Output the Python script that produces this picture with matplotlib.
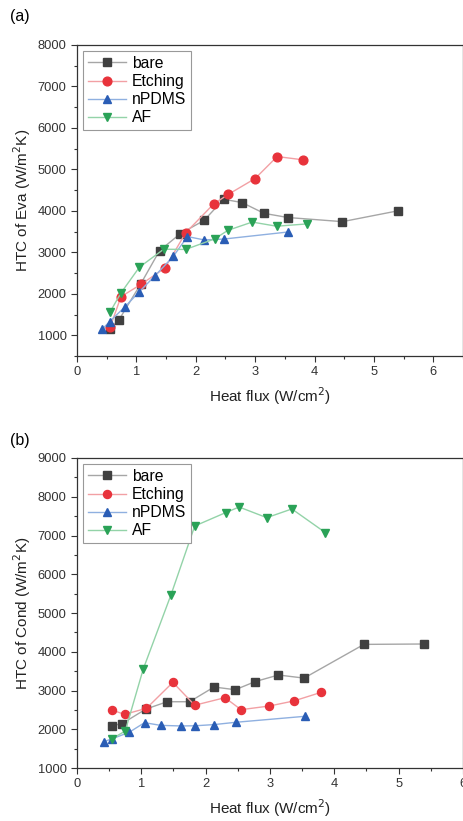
import numpy as np
import matplotlib
matplotlib.use('Agg')
import matplotlib.pyplot as plt
from matplotlib.ticker import MultipleLocator

plt.rcParams['font.family'] = ['Liberation Sans', 'DejaVu Sans']

# (a) HTC of evaporation
eva_bare_x = [0.55, 0.71, 1.07, 1.39, 1.74, 2.14, 2.47, 2.78, 3.15, 3.55, 4.47, 5.40]
eva_bare_y = [1150, 1380, 2230, 3040, 3450, 3770, 4280, 4200, 3940, 3840, 3740, 4000]
eva_etch_x = [0.56, 0.74, 1.08, 1.48, 1.83, 2.30, 2.55, 3.00, 3.37, 3.81]
eva_etch_y = [1200, 1930, 2230, 2620, 3470, 4165, 4400, 4780, 5310, 5230]
eva_npdms_x = [0.42, 0.55, 0.81, 1.05, 1.31, 1.62, 1.86, 2.14, 2.47, 3.55]
eva_npdms_y = [1140, 1330, 1690, 2050, 2430, 2900, 3380, 3300, 3320, 3490]
eva_af_x = [0.56, 0.74, 1.05, 1.46, 1.83, 2.32, 2.54, 2.95, 3.36, 3.87]
eva_af_y = [1570, 2020, 2640, 3075, 3070, 3325, 3530, 3730, 3630, 3685]

# (b) HTC of condensation
cond_bare_x = [0.54, 0.70, 1.07, 1.40, 1.75, 2.13, 2.46, 2.77, 3.13, 3.53, 4.46, 5.39]
cond_bare_y = [2090, 2145, 2520, 2710, 2710, 3090, 3020, 3230, 3400, 3320, 4190, 4200]
cond_etch_x = [0.55, 0.74, 1.08, 1.49, 1.83, 2.30, 2.55, 2.99, 3.37, 3.80]
cond_etch_y = [2490, 2385, 2540, 3210, 2620, 2815, 2505, 2600, 2730, 2955]
cond_npdms_x = [0.42, 0.55, 0.81, 1.05, 1.30, 1.62, 1.84, 2.13, 2.47, 3.55]
cond_npdms_y = [1680, 1757, 1920, 2170, 2100, 2085, 2090, 2120, 2180, 2335]
cond_af_x = [0.55, 0.75, 1.03, 1.46, 1.83, 2.31, 2.52, 2.95, 3.34, 3.86]
cond_af_y = [1760, 1955, 3555, 5465, 7245, 7590, 7735, 7460, 7685, 7075]

labels = ['bare', 'Etching', 'nPDMS', 'AF']
markers = ['s', 'o', '^', 'v']
mcolors = ['#404040', '#e8333b', '#2a5db5', '#2aa257']
lcolors = ['#a6a6a6', '#f2a0a4', '#8fb0e0', '#93d3a8']

fig = plt.figure(figsize=(4.64, 8.21), dpi=100)
ax1 = fig.add_axes([77/464, 1-356/821, 386/464, 311/821])
ax2 = fig.add_axes([77/464, 1-768/821, 386/464, 310/821])


def draw(ax, series, ms):
    for (x, y), lab, mk, mc, lc in zip(series, labels, markers, mcolors, lcolors):
        ax.plot(x, y, color=lc, lw=1.0, marker=mk, ms=ms, mfc=mc, mec=mc, label=lab)
    ax.xaxis.set_major_locator(MultipleLocator(1))
    ax.xaxis.set_minor_locator(MultipleLocator(0.5))
    ax.yaxis.set_major_locator(MultipleLocator(1000))
    ax.yaxis.set_minor_locator(MultipleLocator(500))
    ax.tick_params(which='both', direction='out', top=False, right=False,
                   labelsize=9.3, colors='#333333', width=0.8)
    ax.tick_params(which='major', length=4)
    ax.tick_params(which='minor', length=2)
    for s in ax.spines.values():
        s.set_color('#333333')
        s.set_linewidth(0.9)
    ax.set_xlabel('Heat flux (W/cm$^2$)', fontsize=11, color='#222222', labelpad=5)
    leg = ax.legend(loc='upper left', fontsize=11.3, fancybox=False, framealpha=1,
                    edgecolor='#999999', handlelength=2.4, handletextpad=0.4,
                    borderpad=0.3, labelspacing=0.2, borderaxespad=0.4)
    leg.get_frame().set_linewidth(0.8)


draw(ax1, [(eva_bare_x, eva_bare_y), (eva_etch_x, eva_etch_y),
           (eva_npdms_x, eva_npdms_y), (eva_af_x, eva_af_y)], 6.3)
ax1.set_xlim(0, 6.5)
ax1.set_ylim(500, 8000)
ax1.set_ylabel('HTC of Eva (W/m$^2$K)', fontsize=11, color='#222222')
ax1.yaxis.set_label_coords(-0.115, 0.5)

draw(ax2, [(cond_bare_x, cond_bare_y), (cond_etch_x, cond_etch_y),
           (cond_npdms_x, cond_npdms_y), (cond_af_x, cond_af_y)], 5.8)
ax2.set_xlim(0, 6)
ax2.set_ylim(1000, 9000)
ax2.set_ylabel('HTC of Cond (W/m$^2$K)', fontsize=11, color='#222222')
ax2.yaxis.set_label_coords(-0.115, 0.5)

fig.text(10/464, 1-17/821, '(a)', fontsize=11.5, va='center', ha='left')
fig.text(10/464, 1-440/821, '(b)', fontsize=11.5, va='center', ha='left')

fig.savefig('out.png', dpi=100)
